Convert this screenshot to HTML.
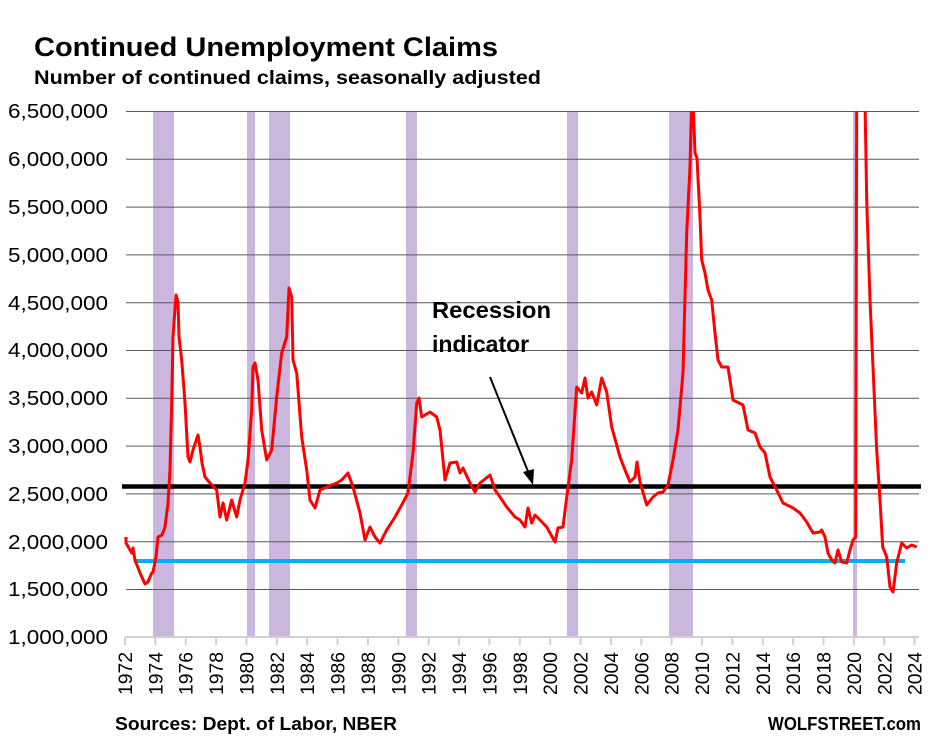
<!DOCTYPE html>
<html><head><meta charset="utf-8"><style>
body{margin:0;background:#fff;}
svg text{font-family:"Liberation Sans",Arial,sans-serif;}
</style></head><body>
<svg width="931" height="748" viewBox="0 0 931 748" xmlns="http://www.w3.org/2000/svg">
<rect width="931" height="748" fill="#fff"/>
<text x="34" y="56" font-size="27" font-weight="bold" textLength="464" lengthAdjust="spacingAndGlyphs">Continued Unemployment Claims</text>
<text x="34" y="84" font-size="19" font-weight="bold" textLength="507" lengthAdjust="spacingAndGlyphs">Number of continued claims, seasonally adjusted</text>
<!-- recessions -->
<g fill="#cbb6de">
<rect x="153" y="112" width="21" height="525"/>
<rect x="247" y="112" width="8" height="525"/>
<rect x="269" y="112" width="21" height="525"/>
<rect x="406" y="112" width="11" height="525"/>
<rect x="567" y="112" width="11" height="525"/>
<rect x="669" y="112" width="24" height="525"/>
<rect x="853" y="112" width="4" height="525"/>
</g>
<!-- gridlines -->
<g stroke="#595959" stroke-width="1">
<line x1="126" x2="919" y1="111.5" y2="111.5"/>
<line x1="126" x2="919" y1="159.3" y2="159.3"/>
<line x1="126" x2="919" y1="207.1" y2="207.1"/>
<line x1="126" x2="919" y1="254.9" y2="254.9"/>
<line x1="126" x2="919" y1="302.7" y2="302.7"/>
<line x1="126" x2="919" y1="350.5" y2="350.5"/>
<line x1="126" x2="919" y1="398.3" y2="398.3"/>
<line x1="126" x2="919" y1="446.1" y2="446.1"/>
<line x1="126" x2="919" y1="493.9" y2="493.9"/>
<line x1="126" x2="919" y1="541.7" y2="541.7"/>
<line x1="126" x2="919" y1="589.5" y2="589.5"/>
</g>
<g font-size="20" text-anchor="end" fill="#000">
<text x="108" y="118" textLength="100" lengthAdjust="spacingAndGlyphs">6,500,000</text>
<text x="108" y="166" textLength="100" lengthAdjust="spacingAndGlyphs">6,000,000</text>
<text x="108" y="214" textLength="100" lengthAdjust="spacingAndGlyphs">5,500,000</text>
<text x="108" y="262" textLength="100" lengthAdjust="spacingAndGlyphs">5,000,000</text>
<text x="108" y="310" textLength="100" lengthAdjust="spacingAndGlyphs">4,500,000</text>
<text x="108" y="357" textLength="100" lengthAdjust="spacingAndGlyphs">4,000,000</text>
<text x="108" y="405" textLength="100" lengthAdjust="spacingAndGlyphs">3,500,000</text>
<text x="108" y="453" textLength="100" lengthAdjust="spacingAndGlyphs">3,000,000</text>
<text x="108" y="501" textLength="100" lengthAdjust="spacingAndGlyphs">2,500,000</text>
<text x="108" y="549" textLength="100" lengthAdjust="spacingAndGlyphs">2,000,000</text>
<text x="108" y="596" textLength="100" lengthAdjust="spacingAndGlyphs">1,500,000</text>
<text x="108" y="644" textLength="100" lengthAdjust="spacingAndGlyphs">1,000,000</text>
</g>
<!-- x axis -->
<line x1="125" x2="919" y1="637" y2="637" stroke="#d0d0d0" stroke-width="2"/>
<g id="ticks" stroke="#d0d0d0" stroke-width="2"></g>
<g id="xl" font-size="19"></g>
<!-- lines -->
<line x1="134" x2="905" y1="561" y2="561" stroke="#00b0f0" stroke-width="4"/>
<line x1="122" x2="921" y1="486.5" y2="486.5" stroke="#000" stroke-width="4.5"/>
<clipPath id="c"><rect x="120" y="111" width="805" height="530"/></clipPath>
<polyline clip-path="url(#c)" fill="none" stroke="#ff0000" stroke-width="3" stroke-linejoin="round" points="
126,537 126,543 131.7,553 133,548 135,560 140,573 145,584 148,582 151.7,573 153,572 156,557 158,537 162,535 165,527 168,503 170,470 171.7,403 173,337 176,295 178,302 179,337 181.7,360 185,403 188,457 190,462 193,450 198,435 200,447 202,463 205,477 210,483 216.7,490 220,517 223,503 226.7,520 231.7,500 236.7,517 240,500 245,483 248,460 251.7,410 253,367 255,363 258,380 261.7,430 266.7,460 271.7,450 276.7,397 281.7,353 286.7,337 289,288 291.7,297 293,360 296.7,373 301.7,437 306.7,470 310,500 315,508 320,490 326.7,487 336.7,483 341.7,480 348,473 353,487 360,513 365,540 370,527 375,537 380,543 386.7,530 395,517 401.7,505 408,493 413,453 416.7,403 419,398 421.7,417 430,412 436.7,417 440,430 445,480 450,463 456.7,462 460,473 463,468 470,483 475,492 480,483 490,475 495,490 500,497 506.7,507 515,517 520,520 525,527 528,508 531.7,523 535,515 540,520 546.7,527 550,533 555,542 558,528 563,527 566.7,497 571.7,460 576.7,387 581.7,393 585,378 588,398 591.7,392 596.7,405 601.7,378 606.7,392 611.7,427 620,457 625,470 630,482 635,477 637,462 640,482 646.7,505 653,497 658,493 663,492 668,485 673,460 678,430 683,373 686.7,233 690,167 691.7,100 693,100 695,153 697,158 700,217 701.7,260 705,273 708,290 711.7,300 715,333 718,360 721.7,367 728,367 733,400 743,405 748,430 755,433 760,447 765,453 770,477 776.7,490 783,503 793,508 800,513 806.7,522 813,533 820,532 821.7,530 825,537 828,553 831.7,560 835,563 838,550 841.7,562 846.7,563 850,550 853,540 855.7,537 856.7,100 865,100 866.7,200 870,300 873,367 876.7,450 880,500 882.7,547 886.7,557 890,587 893,592 896.7,563 901.7,543 906.7,548 911.7,545 916.7,547"/>
<!-- annotation -->
<text x="432" y="318" font-size="23" font-weight="bold" textLength="119" lengthAdjust="spacingAndGlyphs">Recession</text>
<text x="432" y="352" font-size="23" font-weight="bold">indicator</text>
<line x1="490" y1="377" x2="529" y2="474" stroke="#000" stroke-width="2"/>
<polygon points="533,485 523,472 534,469" fill="#000"/>
<text x="115" y="730" font-size="18" font-weight="bold" textLength="282" lengthAdjust="spacingAndGlyphs">Sources: Dept. of Labor, NBER</text>
<text x="921" y="730" font-size="18" font-weight="bold" text-anchor="end" textLength="153" lengthAdjust="spacingAndGlyphs">WOLFSTREET.com</text>
<script>
var t=document.getElementById('ticks'),l=document.getElementById('xl'),ns='http://www.w3.org/2000/svg';
for(var i=0;i<=26;i++){var x=125+i*30.37;
var ln=document.createElementNS(ns,'line');ln.setAttribute('x1',x);ln.setAttribute('x2',x);ln.setAttribute('y1',637);ln.setAttribute('y2',645);t.appendChild(ln);
var tx=document.createElementNS(ns,'text');tx.setAttribute('transform','translate('+(x+7)+',695) rotate(-90)');tx.setAttribute('textLength','43');tx.setAttribute('lengthAdjust','spacingAndGlyphs');tx.textContent=1972+2*i;l.appendChild(tx);}
</script>
</svg>
</body></html>
